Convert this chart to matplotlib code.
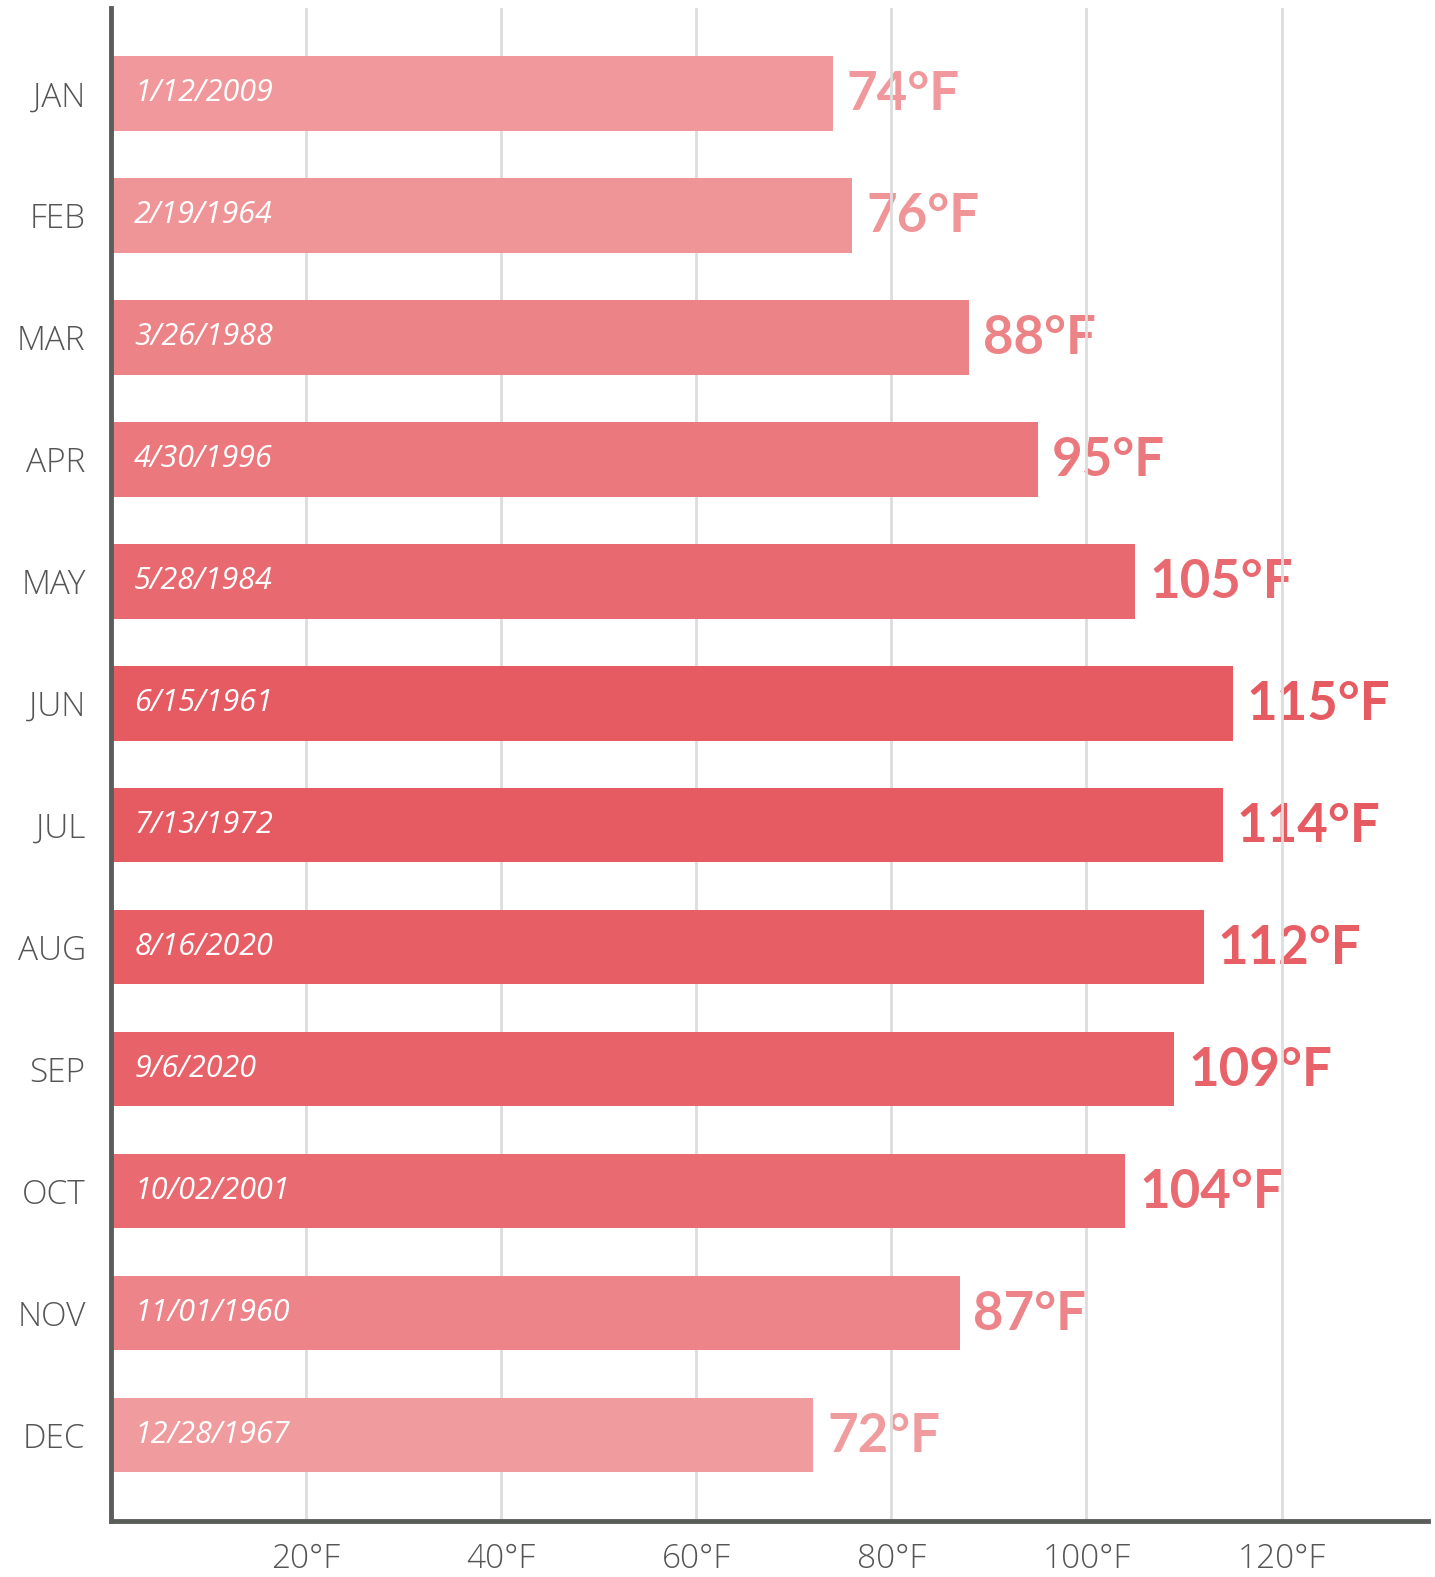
import numpy as np
import matplotlib.pyplot as plt
from matplotlib.colors import LinearSegmentedColormap, Normalize

months = ["JAN", "FEB", "MAR", "APR", "MAY", "JUN", "JUL", "AUG", "SEP", "OCT", "NOV", "DEC"]
record_highs = [74, 76, 88, 95, 105, 115, 114, 112, 109, 104, 87, 72]
record_dates = ["1/12/2009", "2/19/1964", "3/26/1988", "4/30/1996", "5/28/1984", "6/15/1961",
                "7/13/1972", "8/16/2020", "9/6/2020", "10/02/2001", "11/01/1960", "12/28/1967"]
xticks = [20, 40, 60, 80, 100, 120]

cmap = LinearSegmentedColormap.from_list("heat", ["#F09B9E", "#E65A61"])
norm = Normalize(vmin=min(record_highs), vmax=max(record_highs))
colors = [cmap(norm(v)) for v in record_highs]

fig = plt.figure(figsize=(14.35, 15.77), dpi=100)
ax = fig.add_axes([0.0771, 0.0358, 0.918, 0.9591])

y = np.arange(len(months))
ax.barh(y, record_highs, height=0.61, color=colors, zorder=2)

for yi, v, d, c in zip(y, record_highs, record_dates, colors):
    ax.annotate(d, (0, yi), xytext=(17, 0), textcoords="offset points",
                va="center", ha="left", fontsize=22, style="italic",
                family="Open Sans", color="white", zorder=3)
    ax.annotate(f"{v}°F", (v, yi), xytext=(10, -1), textcoords="offset points",
                va="center", ha="left", fontsize=38, fontweight="bold",
                family="Lato", color=c, zorder=1)

ax.set_xlim(0, 135)
ax.set_ylim(len(months) - 1 + 0.7, -0.7)
ax.set_yticks(y)
ax.set_yticklabels(months, family="Open Sans", fontsize=24, fontweight="light", color="#555555")
ax.set_xticks(xticks)
ax.set_xticklabels([f"{t}°F" for t in xticks], family="Open Sans", fontsize=24,
                   fontweight="light", color="#555555")
ax.tick_params(axis="y", length=0, pad=18)
ax.tick_params(axis="x", length=0, pad=16)

ax.set_axisbelow("line")
ax.xaxis.grid(True, color="#dddddd", lw=2)
for s in ["top", "right"]:
    ax.spines[s].set_visible(False)
for s in ["left", "bottom"]:
    ax.spines[s].set_linewidth(3.5)
    ax.spines[s].set_color("#5b5d5b")

plt.savefig("out.png", dpi=100)
